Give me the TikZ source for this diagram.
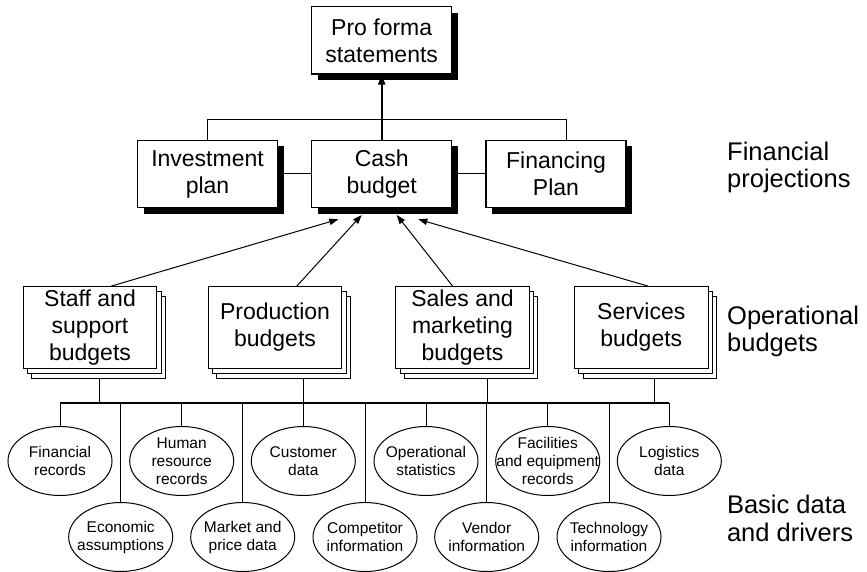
\documentclass[tikz,border=0pt]{standalone}
\usepackage{fontspec}
\setmainfont{Liberation Sans}
\usetikzlibrary{shadows,arrows.meta,shapes.geometric}
\begin{document}
\begin{tikzpicture}[x=1pt,y=-1pt,
  line width=1pt,
  box/.style={draw, fill=white, line width=1.1pt, minimum width=140pt, minimum height=67.5pt,
    inner sep=0pt, align=center, font=\fontsize{23}{27}\selectfont,
    drop shadow={shadow xshift=6pt, shadow yshift=-6pt, fill=black, opacity=1}},
  opbox/.style={draw, fill=white, line width=1pt, minimum width=133.4pt, minimum height=81.6pt,
    inner sep=0pt, align=center, font=\fontsize{23}{27}\selectfont,
    double copy shadow={shadow xshift=4.3pt, shadow yshift=-5pt, fill=white, draw=black, line width=1pt}},
  dataell/.style={draw, ellipse, line width=1pt, minimum width=104pt, minimum height=69pt, inner sep=0pt},
  dtext/.style={font=\fontsize{15.5}{18}\selectfont, align=center},
  side/.style={anchor=west, align=left, inner sep=0pt, font=\fontsize{25.5}{27.5}\selectfont},
  arr/.style={line width=1pt, -{Triangle[length=9pt,width=6.5pt]}},
  thickarr/.style={line width=2pt, -{Triangle[length=10pt,width=7pt]}},
  bus/.style={line width=2pt},
  drop/.style={line width=0.9pt}
]
\useasboundingbox (0,0) rectangle (867,572);

% Financial projections
\node[box] (pro) at (381.7,40.3) {Pro forma\\statements};
\node[box] (inv) at (207.5,174) {Investment\\plan};
\node[box] (cash) at (381.7,174) {Cash\\budget};
\node[box] (fin) at (556,174) {Financing\\Plan};

\coordinate (topbar) at (0,119.3);
\draw[thickarr] (cash.north) -- (pro.south);
\draw (inv.north) |- ([xshift=10.7pt]fin.north |- topbar) -- ([xshift=10.7pt]fin.north);
\draw (inv.east) -- (cash.west);
\draw (cash.east) -- (fin.west);

% Operational budgets
\node[opbox] (staff) at (90,327.5) {Staff and\\support\\budgets};
\node[opbox] (prod) at (275,327.5) {Production\\budgets};
\node[opbox] (sales) at (462.5,327.5) {Sales and\\marketing\\budgets};
\node[opbox] (serv) at (641.3,327.5) {Services\\budgets};

\coordinate (c1) at (338.3,219.3);
\coordinate (c2) at (361.7,215);
\coordinate (c3) at (396.7,215);
\coordinate (c4) at (418.3,219.3);
\draw[arr] ([xshift=21pt]staff.north) -- (c1);
\draw[arr] ([xshift=21.7pt]prod.north) -- (c2);
\draw[arr] ([xshift=-9.8pt]sales.north) -- (c3);
\draw[arr] ([xshift=7pt]serv.north) -- (c4);

% Bus
\coordinate (busL) at (60,403.3);
\coordinate (busR) at (669.3,403.3);

\coordinate (sd) at ([xshift=9.3pt,yshift=-10pt]staff.south);
\coordinate (pd) at ([xshift=28.3pt,yshift=-10pt]prod.south);
\coordinate (sld) at ([xshift=24.8pt,yshift=-10pt]sales.south);
\coordinate (svd) at ([xshift=12.7pt,yshift=-10pt]serv.south);
\draw[drop] (sd) -- (sd |- busL);
\draw[drop] (pd) -- (pd |- busL);
\draw[drop] (sld) -- (sld |- busL);
\draw[drop] (svd) -- (svd |- busL);

% Data ellipses, upper row
\node[dataell, label={[dtext]center:{Financial\\records}}] (finrec) at (60,461) {};
\node[dataell, label={[dtext]center:{Human\\resource\\records}}] (hr) at (181.7,461) {};
\node[dataell, label={[dtext]center:{Customer\\data}}] (cust) at (303.3,461) {};
\node[dataell, label={[dtext]center:{Operational\\statistics}}] (ops) at (426,461) {};
\node[dataell, label={[dtext]center:{Facilities\\and equipment\\records}}] (fac) at (547.7,461) {};
\node[dataell, label={[dtext]center:{Logistics\\data}}] (log) at (669.3,461) {};

% lower row
\node[dataell, label={[dtext]center:{Economic\\assumptions}}] (eco) at (120.7,537) {};
\node[dataell, label={[dtext]center:{Market and\\price data}}] (mkt) at (242.7,537) {};
\node[dataell, label={[dtext]center:{Competitor\\information}}] (comp) at (365,537) {};
\node[dataell, label={[dtext]center:{Vendor\\information}}] (vend) at (486.7,537) {};
\node[dataell, label={[dtext]center:{Technology\\information}}] (tech) at (609,537) {};

\foreach \n in {finrec,hr,cust,ops,fac,log,eco,mkt,comp,vend,tech}
  \draw[drop] (\n.north |- busL) -- (\n.north);

\draw[bus] (busL) -- (busR);

% Side labels
\node[side] (lfp) at (726.7,167.4) {Financial\\projections};
\node[side] (lob) at (726.7,331.2) {Operational\\budgets};
\node[side] (lbd) at (726.5,518.6) {Basic data\\and drivers};
\end{tikzpicture}
\end{document}
